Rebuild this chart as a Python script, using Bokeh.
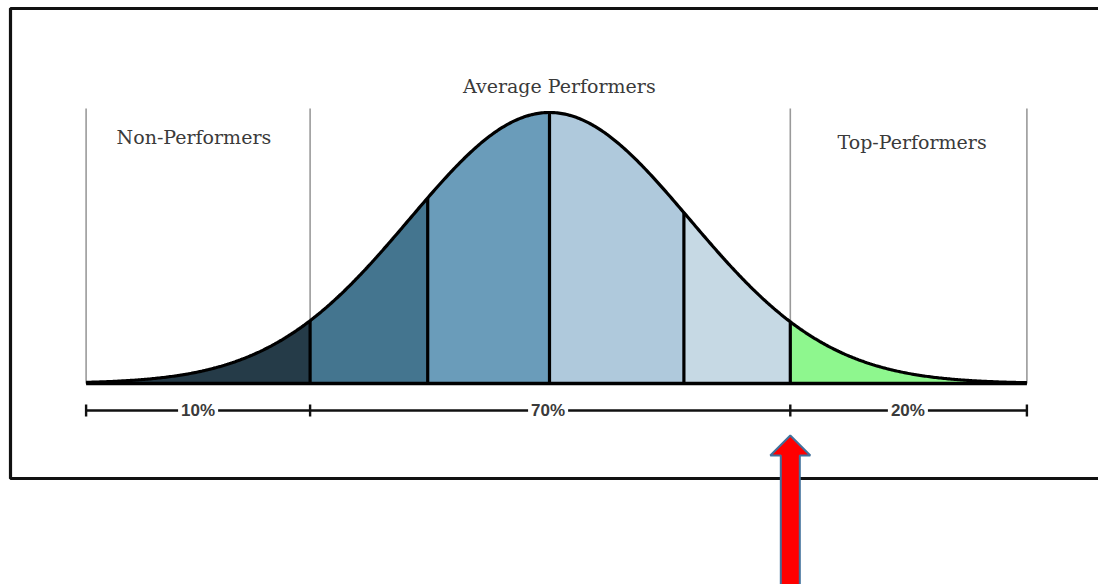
import numpy as np
from bokeh.plotting import figure
from bokeh.models import Range1d
from bokeh.core.properties import value
from bokeh.embed import file_html
from bokeh.resources import INLINE

# Bell curve split into bands (x in standard deviations, density scaled so the peak is 1)
band_edges = [-3.31, -1.71, -0.87, 0.0, 0.96, 1.72, 3.41]
band_colors = ["#253b48", "#44758f", "#6a9cba", "#afc9dc", "#c6d9e4", "#8ef78e"]

# Group boundaries and their labels
group_edges = [-3.31, -1.71, 1.72, 3.41]
group_names = ["Non-Performers", "Average Performers", "Top-Performers"]
group_name_x = [-2.54, 0.07, 2.59]
group_name_y = [0.91, 1.096, 0.89]

# Share of people in each group, shown on the ruler below the curve
share_labels = ["10%", "70%", "20%"]
share_label_x = [-2.51, -0.01, 2.56]

# Marker arrow pointing at the top-performer cut-off
arrow_target = 1.72

W, H = 1098, 584
PX_X = 140.0          # pixels per standard deviation
PX_Y = 271.0          # pixels per unit of scaled density
X0_PX, Y0_PX = 549.0, 383.0


def density(x):
    return np.exp(-np.asarray(x) ** 2 / 2.0)


p = figure(width=W, height=H, output_backend="svg", toolbar_location=None,
           min_border=0, outline_line_color=None,
           x_range=Range1d(-X0_PX / PX_X, (W - X0_PX) / PX_X),
           y_range=Range1d(-(H - Y0_PX) / PX_Y, Y0_PX / PX_Y))
p.axis.visible = False
p.grid.visible = False
p.background_fill_color = "white"
p.border_fill_color = "white"

# Outer frame
frame_left = -539 / PX_X
frame_top = 375 / PX_Y
frame_bottom = -95 / PX_Y
frame_right = 600 / PX_X
p.line([frame_right, frame_left, frame_left, frame_right],
       [frame_top, frame_top, frame_bottom, frame_bottom],
       line_color="#111111", line_width=3.2)

# Thin group dividers
divider_top = 275 / PX_Y
p.segment(x0=group_edges, y0=[0] * len(group_edges), x1=group_edges,
          y1=[divider_top] * len(group_edges), line_color="#9a9a9a", line_width=1.6)

# Coloured bands under the curve
for lo, hi, col in zip(band_edges[:-1], band_edges[1:], band_colors):
    xs = np.linspace(lo, hi, 120)
    ys = density(xs)
    px = np.concatenate([[lo], xs, [hi]])
    py = np.concatenate([[0.0], ys, [0.0]])
    p.patch(px, py, fill_color=col, line_color=None)

# Band separators
inner = band_edges[1:-1]
p.segment(x0=inner, y0=[0] * len(inner), x1=inner, y1=list(density(inner)),
          line_color="black", line_width=3.2)

# Curve outline and baseline
xc = np.linspace(band_edges[0], band_edges[-1], 600)
p.line(xc, density(xc), line_color="black", line_width=3.2)
p.line([band_edges[0], band_edges[-1]], [0, 0], line_color="black", line_width=3.6)

# Group names
p.text(x=group_name_x, y=group_name_y, text=group_names,
       text_font=value("DejaVu Serif"), text_font_size="19px",
       text_color="#3a3a3a", text_align="center", text_baseline="middle")

# Ruler with end ticks and share labels
ruler_y = -27 / PX_Y
tick_h = 6 / PX_Y
p.line([group_edges[0], group_edges[-1]], [ruler_y, ruler_y],
       line_color="#111111", line_width=2.4)
p.segment(x0=group_edges, y0=[ruler_y - tick_h] * 4, x1=group_edges,
          y1=[ruler_y + tick_h] * 4, line_color="#111111", line_width=2.4)
p.text(x=share_label_x, y=[ruler_y] * 3, text=share_labels,
       text_font=value("Liberation Sans"), text_font_style="bold",
       text_font_size="17px", text_color="#3a3a3a",
       text_align="center", text_baseline="middle",
       background_fill_color="white", padding=3)

# Up arrow
shaft_hw = 9.5 / PX_X
head_hw = 20 / PX_X
tip_y = -52 / PX_Y
head_base_y = -72 / PX_Y
tail_y = -(H - Y0_PX + 10) / PX_Y
ax = [arrow_target, arrow_target + head_hw, arrow_target + shaft_hw, arrow_target + shaft_hw,
      arrow_target - shaft_hw, arrow_target - shaft_hw, arrow_target - head_hw]
ay = [tip_y, head_base_y, head_base_y, tail_y, tail_y, head_base_y, head_base_y]
p.patch(ax, ay, fill_color="#ff0000", line_color="#41719c", line_width=2)

open("out.html", "w").write(file_html(p, INLINE))
